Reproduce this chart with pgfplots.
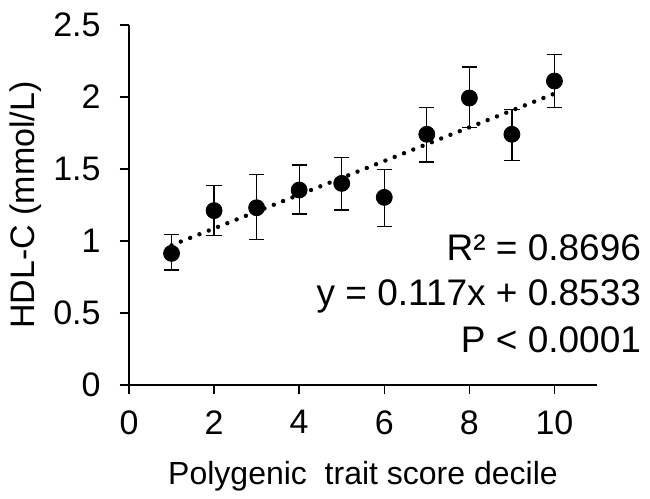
\documentclass[border=0pt]{standalone}
\usepackage{pgfplots}
\pgfplotsset{compat=1.18}
\usepackage{fontspec}
\setmainfont{Liberation Sans}

\begin{document}
\begin{tikzpicture}
\begin{axis}[
    at={(0,0)}, anchor=south west,
    scale only axis,
    width=234pt, height=180pt,
    xmin=0, xmax=11,
    ymin=0, ymax=2.5,
    xtick={0,2,4,6,8,10},
    ytick={0,0.5,1,1.5,2,2.5},
    axis lines*=left,
    axis line style={line width=0.7pt, -},
    tick align=outside,
    major tick length=4.7pt,
    tick style={line width=0.7pt, black},
    /pgf/number format/assume math mode=true,
    ticklabel style={font=\fontsize{17pt}{20pt}\selectfont, inner sep=0pt},
    yticklabel style={anchor=east, xshift=-9.3pt},
    xticklabel style={anchor=north, yshift=-7.8pt},
    xlabel={Polygenic\ \ trait score decile},
    ylabel={HDL-C (mmol/L)},
    xlabel style={font=\fontsize{16pt}{19pt}\selectfont, at={(axis description cs:0.5,0)}, anchor=base, yshift=-50pt},
    ylabel style={font=\fontsize{17pt}{20pt}\selectfont, at={(axis description cs:-0.2009,0.5)}, anchor=base},
    clip=false,
]

% mean HDL-C per decile with asymmetric error bars
\addplot[
    only marks,
    mark=*,
    mark size=4pt,
    black,
    error bars/.cd,
        y dir=both, y explicit,
        error bar style={line width=0.6pt, black},
        error mark options={rotate=90, mark size=3.8pt, line width=0.6pt, black},
    ]
    coordinates {
    (1,0.914) += (0,0.132) -= (0,0.115)
    (2,1.211) += (0,0.173) -= (0,0.172)
    (3,1.231) += (0,0.230) -= (0,0.222)
    (4,1.354) += (0,0.174) -= (0,0.166)
    (5,1.400) += (0,0.181) -= (0,0.185)
    (6,1.303) += (0,0.192) -= (0,0.201)
    (7,1.741) += (0,0.185) -= (0,0.192)
    (8,1.993) += (0,0.215) -= (0,0.204)
    (9,1.741) += (0,0.173) -= (0,0.183)
    (10,2.111) += (0,0.185) -= (0,0.185)
    };

% linear trend
\addplot[
    black,
    line width=2.2pt,
    line cap=round,
    dash pattern=on 0pt off 5pt,
    ]
    coordinates {
    (1,0.9703)
    (10,2.0233)
    };

\node[anchor=base east, font=\fontsize{18.5pt}{22pt}\selectfont] at (axis cs:12.2,0.868) {R² = 0.8696};
\node[anchor=base east, font=\fontsize{18.5pt}{22pt}\selectfont] at (axis cs:12.2,0.549) {y = 0.117x + 0.8533};
\node[anchor=base east, font=\fontsize{18.5pt}{22pt}\selectfont] at (axis cs:12.2,0.229) {P < 0.0001};

\end{axis}
\path (-64.5pt,-55pt) rectangle (260.5pt,192.5pt);
\end{tikzpicture}
\end{document}
